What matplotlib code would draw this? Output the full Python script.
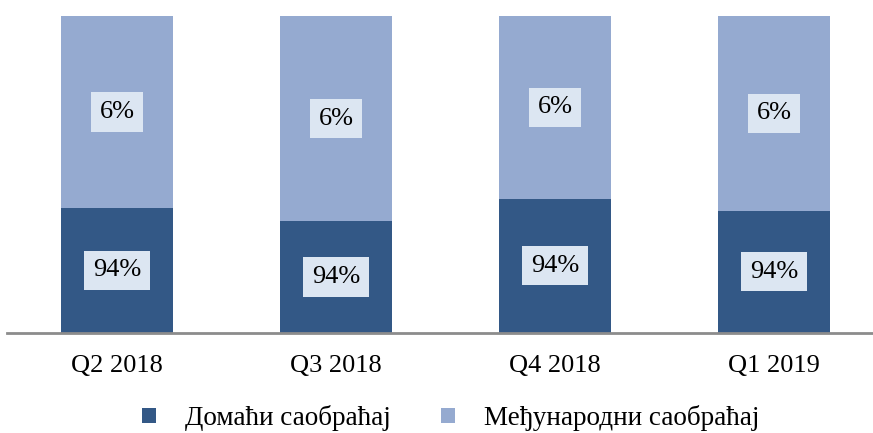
import matplotlib
matplotlib.use('Agg')
import matplotlib.pyplot as plt
import numpy as np

quarters = ['Q2 2018', 'Q3 2018', 'Q4 2018', 'Q1 2019']
domestic = [39.3, 35.2, 42.2, 38.4]
international = [100 - v for v in domestic]
domestic_labels = ['94%', '94%', '94%', '94%']
international_labels = ['6%', '6%', '6%', '6%']
series_names = ['Домаћи саобраћај', 'Међународни саобраћај']

dark = '#335886'
light = '#95aad0'
box = '#dce6f2'

plt.rcParams['font.family'] = ['Liberation Serif', 'DejaVu Serif']

fig = plt.figure(figsize=(8.73, 4.33), dpi=100)
ax = fig.add_axes([7 / 873, 1 - 332.5 / 433, 866 / 873, 316.5 / 433])

x = np.arange(len(quarters))
b1 = ax.bar(x, domestic, width=0.51, color=dark, label=series_names[0])
b2 = ax.bar(x, international, width=0.51, bottom=domestic, color=light,
            label=series_names[1])

for i in range(len(quarters)):
    for y, txt in ((domestic[i] / 2, domestic_labels[i]),
                   (domestic[i] + international[i] / 2, international_labels[i])):
        ax.text(x[i], y, txt, ha='center', va='center', fontsize=19,
                bbox=dict(boxstyle='square,pad=0.33', fc=box, ec='none'))

ax.set_xlim(-0.502, 3.452)
ax.set_ylim(0, 100)
ax.set_xticks(x)
ax.set_xticklabels(quarters, fontsize=19)
ax.tick_params(axis='x', length=0, pad=16)
ax.set_yticks([])
for s in ('top', 'right', 'left'):
    ax.spines[s].set_visible(False)
ax.spines['bottom'].set_color('#8c8c8c')
ax.spines['bottom'].set_linewidth(2)

fig.legend(handles=[b1, b2], loc='center', bbox_to_anchor=(451 / 873, 1 - 418 / 433),
           ncol=2, frameon=False, fontsize=19.5, handlelength=0.52, handleheight=0.52,
           columnspacing=1.85, handletextpad=1.07, borderaxespad=0, borderpad=0)

fig.savefig('out.png', dpi=100)
